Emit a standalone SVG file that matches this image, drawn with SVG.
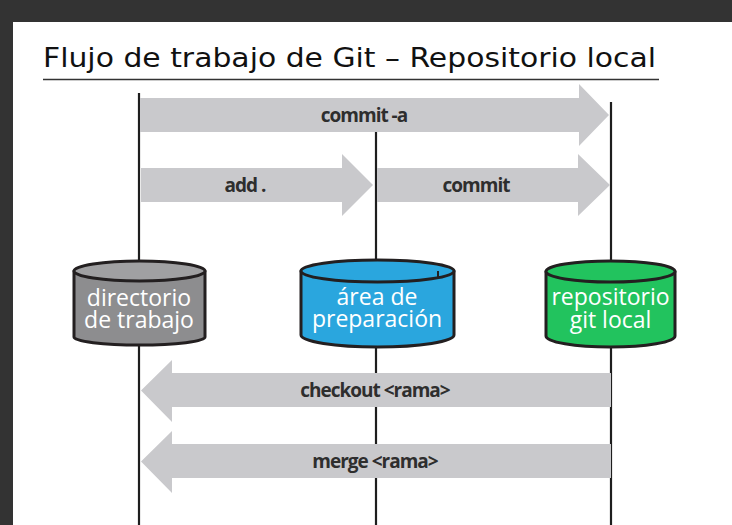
<svg xmlns="http://www.w3.org/2000/svg" width="732" height="525" viewBox="0 0 732 525">
<style>
.bg{fill:#ffffff}
.frame{fill:#333333}
.title{font-family:"DejaVu Sans","Liberation Sans",sans-serif;font-size:26px;fill:#111111}
.rule{stroke:#333333;stroke-width:1.6}
.life{stroke:#1e1e1e;stroke-width:2.2;fill:none}
.arrow{fill:#c9c9cc}
.alabel{font-family:"Open Sans",sans-serif;font-weight:700;font-size:19px;letter-spacing:-1px;fill:#2e2e2e;text-anchor:middle}
.cyl{stroke:#231f20;stroke-width:3;stroke-linejoin:round}
.clabel{font-family:"Open Sans",sans-serif;font-size:23px;fill:#ffffff;text-anchor:middle}
</style>
<rect class="bg" x="0" y="0" width="732" height="525"/>
<rect class="frame" x="0" y="0" width="732" height="22"/>
<rect class="frame" x="0" y="0" width="13" height="525"/>
<g id="title">
<text class="title" x="43" y="67" textLength="613" lengthAdjust="spacingAndGlyphs">Flujo de trabajo de Git – Repositorio local</text>
<line class="rule" x1="43" y1="79.5" x2="659" y2="79.5"/>
</g>
<g id="connectors">
<line class="life" x1="139" y1="93" x2="139" y2="525"/>
<line class="life" x1="376" y1="132" x2="376" y2="525"/>
<line class="life" x1="611" y1="102" x2="611" y2="525"/>
<g id="commit-a">
<polygon class="arrow" points="140,98 579,98 579,84 609,115 579,146 579,132 140,132"/>
<text class="alabel" x="364" y="122">commit -a</text>
</g>
<g id="add">
<polygon class="arrow" points="141,168 342,168 342,154 373,185 342,216 342,202 141,202"/>
<text class="alabel" x="245" y="192">add .</text>
</g>
<g id="commit">
<polygon class="arrow" points="377,168 578,168 578,154 610,185 578,216 578,202 377,202"/>
<text class="alabel" x="476" y="192">commit</text>
</g>
<g id="checkout">
<polygon class="arrow" points="611,373 172,373 172,360 141,390.5 172,422 172,407 611,407"/>
<text class="alabel" x="375" y="397">checkout &lt;rama&gt;</text>
</g>
<g id="merge">
<polygon class="arrow" points="611,444 172,444 172,431 141,461.5 172,493 172,478 611,478"/>
<text class="alabel" x="375" y="468">merge &lt;rama&gt;</text>
</g>
</g>
<g id="directorio">
<path class="cyl" fill="#8d8d8f" d="M74,271 L74,337 A65.5,8 0 0 0 205,337 L205,271 Z"/>
<ellipse class="cyl" fill="#a0a0a2" cx="139.5" cy="271" rx="65.5" ry="10"/>
<text class="clabel" x="139" y="306">directorio</text>
<text class="clabel" x="139" y="328">de trabajo</text>
</g>
<g id="area">
<path class="cyl" fill="#2aa6de" d="M301,271 L301,335 A76.5,12 0 0 0 454,335 L454,271 Z"/>
<ellipse class="cyl" fill="#2aa6de" cx="377.5" cy="271" rx="76.5" ry="11"/>
<line x1="438" y1="271" x2="438" y2="277" stroke="#231f20" stroke-width="2"/>
<text class="clabel" x="377" y="305">área de</text>
<text class="clabel" x="377" y="327">preparación</text>
</g>
<g id="repositorio">
<path class="cyl" fill="#22c35e" d="M546,271.5 L546,336 A64.5,11 0 0 0 675,336 L675,271.5 Z"/>
<ellipse class="cyl" fill="#22c35e" cx="610.5" cy="271.5" rx="64.5" ry="10.5"/>
<text class="clabel" x="610.5" y="305">repositorio</text>
<text class="clabel" x="610.5" y="328">git local</text>
</g>
</svg>
